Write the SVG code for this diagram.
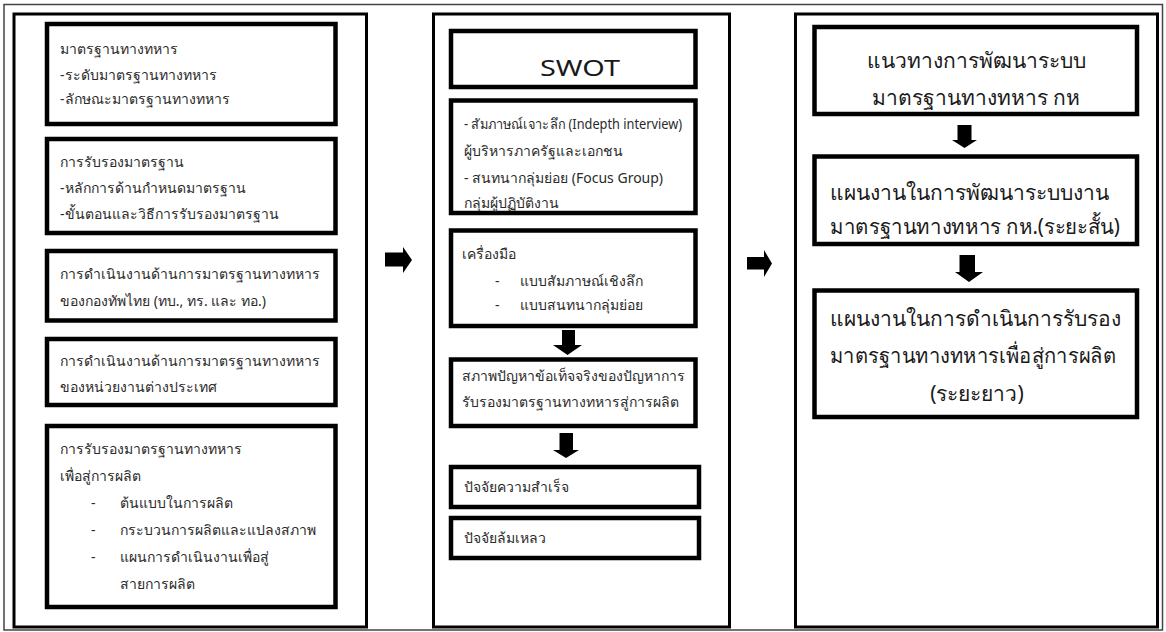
<svg xmlns="http://www.w3.org/2000/svg" width="1166" height="632" viewBox="0 0 1166 632">
<style>
.frame{fill:none;stroke:#444;stroke-width:1.5}
.col{fill:#fff;stroke:#000;stroke-width:3}
.box{fill:#fff;stroke:#000;stroke-width:4.5}
.t{font-family:"Noto Sans","DejaVu Sans",sans-serif;font-size:14px;fill:#2a2a2a}
.big{font-family:"Noto Sans","DejaVu Sans",sans-serif;font-size:21px;fill:#1a1a1a}
.arr{fill:#000}
</style>
<rect x="0" y="0" width="1166" height="632" fill="#fff"/>
<rect class="frame" x="4" y="4.5" width="1158.5" height="625.5"/>

<g id="col1">
<rect class="col" x="14" y="14" width="352.5" height="613"/>
</g>
<g id="col2">
<rect class="col" x="433.5" y="14" width="296" height="613"/>
</g>
<g id="col3">
<rect class="col" x="795.5" y="14" width="362" height="613"/>
</g>

<g id="n-standard">
<rect class="box" x="47" y="24" width="288.5" height="100"/>
<text class="t" x="60" y="54">มาตรฐานทางทหาร</text>
<text class="t" x="60" y="80">-ระดับมาตรฐานทางทหาร</text>
<text class="t" x="60" y="104">-ลักษณะมาตรฐานทางทหาร</text>
</g>
<g id="n-certification">
<rect class="box" x="47" y="139" width="288.5" height="94"/>
<text class="t" x="60" y="167">การรับรองมาตรฐาน</text>
<text class="t" x="60" y="193">-หลักการด้านกำหนดมาตรฐาน</text>
<text class="t" x="60" y="219">-ขั้นตอนและวิธีการรับรองมาตรฐาน</text>
</g>
<g id="n-thai-forces">
<rect class="box" x="47" y="251" width="288.5" height="69.5"/>
<text class="t" x="60" y="279">การดำเนินงานด้านการมาตรฐานทางทหาร</text>
<text class="t" x="60" y="306">ของกองทัพไทย (ทบ., ทร. และ ทอ.)</text>
</g>
<g id="n-foreign">
<rect class="box" x="47" y="339" width="288.5" height="66"/>
<text class="t" x="60" y="366">การดำเนินงานด้านการมาตรฐานทางทหาร</text>
<text class="t" x="60" y="392">ของหน่วยงานต่างประเทศ</text>
</g>
<g id="n-production">
<rect class="box" x="47" y="426" width="288.5" height="181"/>
<text class="t" x="60" y="454">การรับรองมาตรฐานทางทหาร</text>
<text class="t" x="60" y="481">เพื่อสู่การผลิต</text>
<text class="t" x="91" y="508">-</text>
<text class="t" x="120" y="508">ต้นแบบในการผลิต</text>
<text class="t" x="91" y="535">-</text>
<text class="t" x="120" y="535">กระบวนการผลิตและแปลงสภาพ</text>
<text class="t" x="91" y="562">-</text>
<text class="t" x="120" y="562">แผนการดำเนินงานเพื่อสู่</text>
<text class="t" x="120" y="589">สายการผลิต</text>
</g>

<g id="n-swot">
<rect class="box" x="451" y="31" width="244.5" height="56"/>
<text class="big" x="540" y="76" font-size="23" textLength="80" lengthAdjust="spacingAndGlyphs">SWOT</text>
</g>
<g id="n-interview">
<rect class="box" x="451" y="100.5" width="244.5" height="112.5"/>
<text class="t" x="464" y="129" textLength="218" lengthAdjust="spacingAndGlyphs">- สัมภาษณ์เจาะลึก (Indepth interview)</text>
<text class="t" x="464" y="156">ผู้บริหารภาครัฐและเอกชน</text>
<text class="t" x="464" y="183">- สนทนากลุ่มย่อย (Focus Group)</text>
<text class="t" x="464" y="208">กลุ่มผู้ปฏิบัติงาน</text>
</g>
<g id="n-tools">
<rect class="box" x="451" y="230.5" width="244.5" height="95.5"/>
<text class="t" x="462" y="259">เครื่องมือ</text>
<text class="t" x="495" y="286">-</text>
<text class="t" x="520" y="286">แบบสัมภาษณ์เชิงลึก</text>
<text class="t" x="495" y="310">-</text>
<text class="t" x="520" y="310">แบบสนทนากลุ่มย่อย</text>
</g>
<g id="n-problem">
<rect class="box" x="451" y="359.5" width="244.5" height="66.5"/>
<text class="t" x="462" y="381">สภาพปัญหาข้อเท็จจริงของปัญหาการ</text>
<text class="t" x="462" y="407">รับรองมาตรฐานทางทหารสู่การผลิต</text>
</g>
<g id="n-success">
<rect class="box" x="451" y="467" width="248" height="40"/>
<text class="t" x="464" y="492">ปัจจัยความสำเร็จ</text>
</g>
<g id="n-failure">
<rect class="box" x="451" y="518" width="248" height="40"/>
<text class="t" x="464" y="543">ปัจจัยล้มเหลว</text>
</g>

<g id="n-guideline">
<rect class="box" x="814.5" y="27" width="322.5" height="87"/>
<text class="big" x="976" y="68" text-anchor="middle">แนวทางการพัฒนาระบบ</text>
<text class="big" x="976" y="105" text-anchor="middle">มาตรฐานทางทหาร กห</text>
</g>
<g id="n-short-plan">
<rect class="box" x="814.5" y="156.5" width="322.5" height="87.5"/>
<text class="big" x="830" y="200">แผนงานในการพัฒนาระบบงาน</text>
<text class="big" x="830" y="234" textLength="290" lengthAdjust="spacingAndGlyphs">มาตรฐานทางทหาร กห.(ระยะสั้น)</text>
</g>
<g id="n-long-plan">
<rect class="box" x="814.5" y="290.5" width="322.5" height="126.5"/>
<text class="big" x="830" y="326">แผนงานในการดำเนินการรับรอง</text>
<text class="big" x="830" y="363" textLength="286" lengthAdjust="spacingAndGlyphs">มาตรฐานทางทหารเพื่อสู่การผลิต</text>
<text class="big" x="977" y="401" text-anchor="middle">(ระยะยาว)</text>
</g>

<g id="connectors">
<polygon class="arr" points="385,252.5 403,252.5 403,247 412,260 403,273 403,266.5 385,266.5"/>
<polygon class="arr" points="747,257 764,257 764,250 772,263.5 764,277 764,269.5 747,269.5"/>
<polygon class="arr" points="562,330 575,330 575,345 582,345 567.5,355 553,345 562,345"/>
<polygon class="arr" points="559.5,433 573,433 573,450 579,450 566,458 553,450 559.5,450"/>
<polygon class="arr" points="957.5,125 971.5,125 971.5,140 977,140 964.5,148 952,140 957.5,140"/>
<polygon class="arr" points="959.5,255 975,255 975,272 983,272 969,282 955,272 959.5,272"/>
</g>
</svg>
